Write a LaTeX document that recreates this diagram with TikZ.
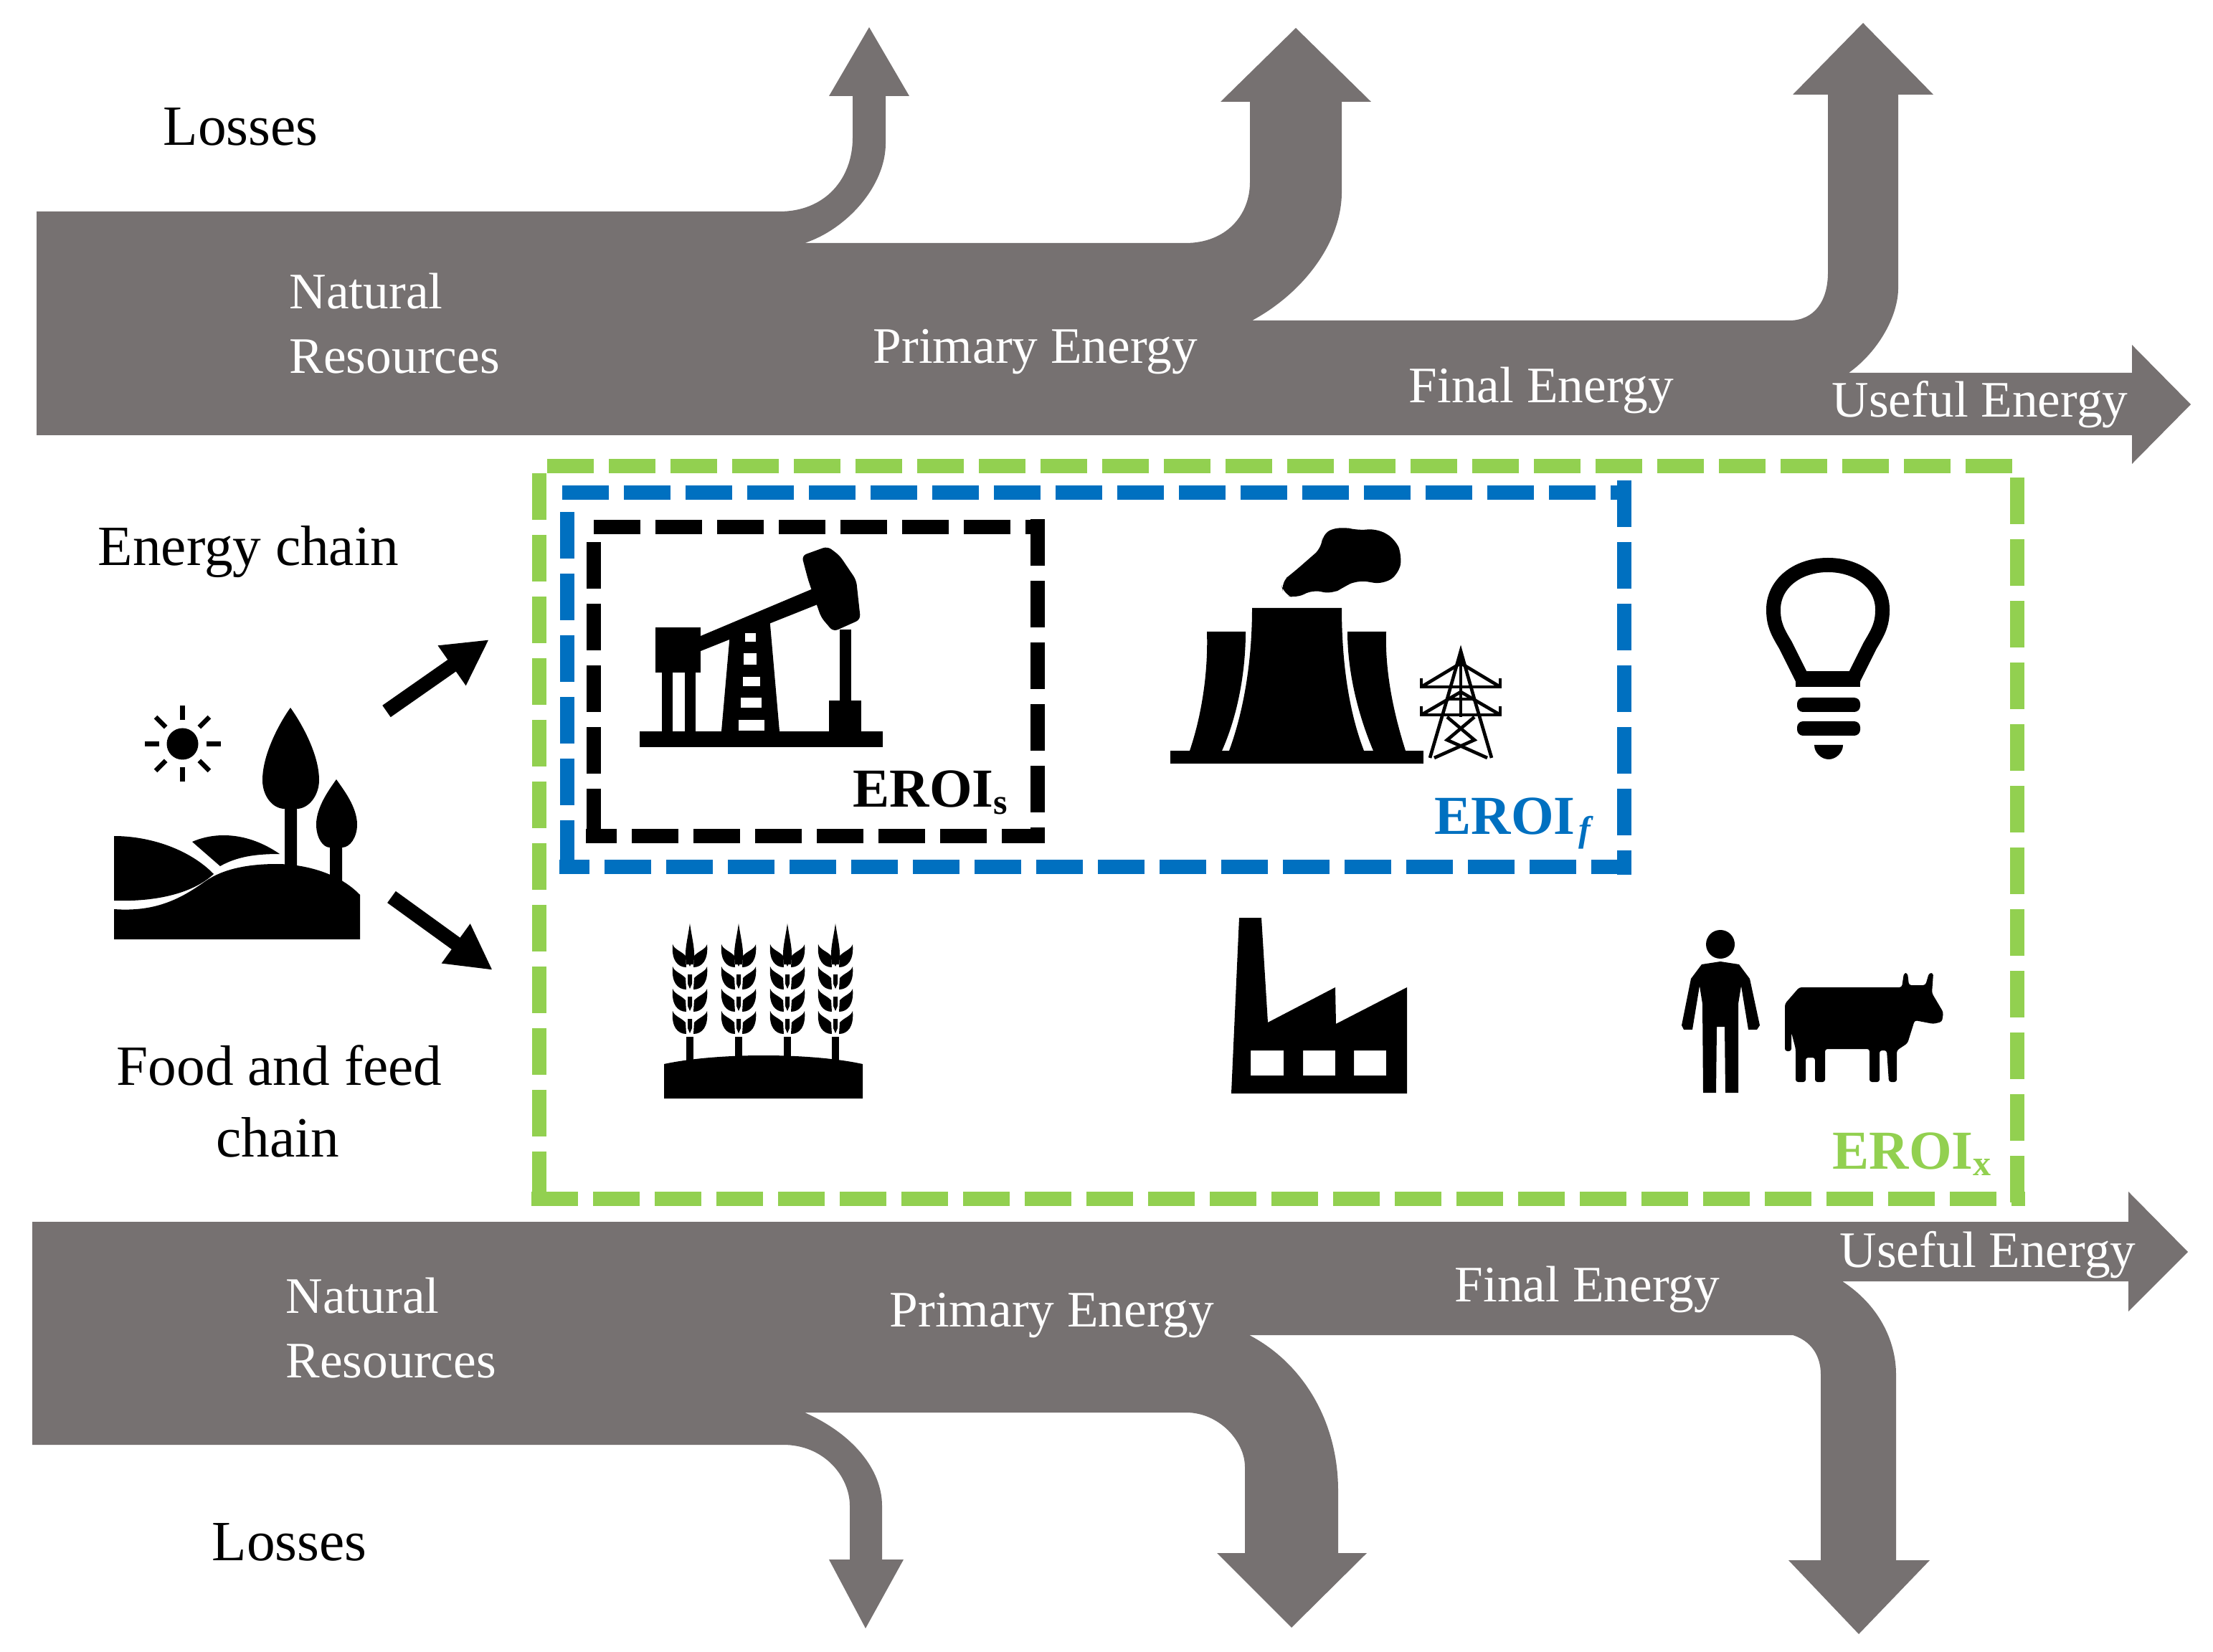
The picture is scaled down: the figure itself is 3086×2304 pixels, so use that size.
\documentclass[tikz,border=0pt]{standalone}
\usepackage{fontspec}
\setmainfont{Liberation Serif}
\usetikzlibrary{arrows.meta,calc}
\definecolor{bandgrey}{HTML}{767171}
\definecolor{eroigreen}{HTML}{92D050}
\definecolor{eroiblue}{HTML}{0070C0}
\newcommand{\subsc}[1]{{\fontsize{15}{15}\selectfont\raisebox{-2.8pt}{#1}}}
\tikzset{
  band/.style={fill=bandgrey},
  lbl/.style={anchor=base west,inner sep=0pt,font=\fontsize{23.8}{24}\selectfont},
  wlbl/.style={anchor=base west,inner sep=0pt,font=\fontsize{21.4}{22}\selectfont,text=white},
  eroilbl/.style={anchor=base west,inner sep=0pt,font=\fontsize{23}{23}\selectfont\bfseries},
  dashside/.style={dash pattern=on 19.5pt off 6.3pt,line cap=butt},
  greenside/.style={dashside,draw=eroigreen,line width=5.8pt},
  blueside/.style={dashside,draw=eroiblue,line width=6.2pt},
  blackside/.style={dashside,draw=black,line width=6.2pt},
  smallarrow/.style={black,line width=6pt,-{Triangle[length=19pt,width=19pt]}},
  icon/.style={fill=black}
}
\begin{document}
\begin{tikzpicture}[x=0.3pt,y=-0.3pt]
\useasboundingbox (0,0) rectangle (3086,2304);
% top band
\fill[band] (51,295) -- (1087,295) .. controls (1150,295) and (1189,250) .. (1189,192) -- (1189,134) -- (1156,134) -- (1212,38) -- (1268,134) -- (1235,134) -- (1235,200) .. controls (1235,260) and (1180,320) .. (1122,339)
 -- (1653,339) .. controls (1710,339) and (1743,300) .. (1743,254) -- (1743,142) -- (1702,142) -- (1807,39) -- (1912,142) -- (1871,142) -- (1871,268) .. controls (1871,340) and (1815,410) .. (1746,447)
 -- (2495,447) .. controls (2530,447) and (2549,420) .. (2549,380) -- (2549,132) -- (2500,132) -- (2598,32) -- (2696,132) -- (2647,132) -- (2647,402) .. controls (2647,440) and (2620,490) .. (2578,520)
 -- (2973,520) -- (2973,481) -- (3055,564) -- (2973,647) -- (2973,607) -- (51,607) -- cycle;
% bottom band
\fill[band] (45,1704) -- (2968,1704) -- (2968,1662) -- (3051,1746) -- (2968,1829) -- (2968,1787) -- (2569,1787) .. controls (2620,1820) and (2644,1870) .. (2644,1917) -- (2644,2176) -- (2691,2176) -- (2592,2279) -- (2494,2176) -- (2539,2176) -- (2539,1917) .. controls (2539,1890) and (2525,1870) .. (2500,1862)
 -- (1742,1862) .. controls (1815,1900) and (1866,1980) .. (1866,2079) -- (1866,2166) -- (1906,2166) -- (1801,2270) -- (1697,2166) -- (1736,2166) -- (1736,2046) .. controls (1736,2010) and (1700,1970) .. (1654,1970)
 -- (1122,1970) .. controls (1190,2000) and (1230,2050) .. (1230,2100) -- (1230,2175) -- (1260,2175) -- (1207,2271) -- (1156,2175) -- (1185,2175) -- (1185,2100) .. controls (1185,2060) and (1150,2015) .. (1092,2015) -- (45,2015) -- cycle;
% labels
\node[lbl] (lossTop) at (227,203) {Losses};
\node[wlbl] (natTop) at (403,431) {Natural};
\node[wlbl] (resTop) at (403,521) {Resources};
\node[wlbl] (priTop) at (1217,507) {Primary Energy};
\node[wlbl] (finTop) at (1964,562) {Final Energy};
\node[wlbl] (useTop) at (2554,582) {Useful Energy};
\node[lbl] (enChain) at (136,789) {Energy chain};
\node[lbl] (foodA) at (162,1513) {Food and feed};
\node[lbl] (foodB) at (301,1613) {chain};
\node[wlbl] (natBot) at (398,1831) {Natural};
\node[wlbl] (resBot) at (398,1921) {Resources};
\node[wlbl] (priBot) at (1240,1850) {Primary Energy};
\node[wlbl] (finBot) at (2028,1815) {Final Energy};
\node[wlbl] (useBot) at (2565,1767) {Useful Energy};
\node[lbl] (lossBot) at (295,2176) {Losses};
% dashed frames
\draw[greenside] (763,650) -- (2808,650);
\draw[greenside] (752,660) -- (752,1682);
\draw[greenside] (741,1672) -- (2824,1672);
\draw[greenside] (2813,666) -- (2813,1682);
\draw[blueside] (784,687) -- (2275,687);
\draw[blueside] (791,714) -- (791,1220);
\draw[blueside,dash phase=6.9pt] (780,1209) -- (2275,1209);
\draw[blueside] (2265,670) -- (2265,1220);
\draw[blackside] (828,735) -- (1457,735);
\draw[blackside] (828,756) -- (828,1176);
\draw[blackside,dash phase=6.6pt] (817,1166) -- (1457,1166);
\draw[blackside] (1447,724) -- (1447,1176);
\node[eroilbl] (eroiS) at (1189,1126) {EROI\subsc{s}};
\node[eroilbl,text=eroiblue] (eroiF) at (2000,1164) {EROI\kern1.5pt\subsc{\itshape f}};
\node[eroilbl,text=eroigreen] (eroiX) at (2555,1630) {EROI\subsc{x}};
% small arrows
\coordinate (upA) at (539,992);
\coordinate (upB) at (682,892);
\coordinate (dnA) at (546,1251);
\coordinate (dnB) at (687,1353);
\draw[smallarrow] (upA) -- (upB);
\draw[smallarrow] (dnA) -- (dnB);
% sun
\fill[icon] (254.5,1037.5) circle [radius=22];
\foreach \a in {0,45,...,315}
  \draw[black,line width=2pt] ($(254.5,1037.5)+(\a:33)$) -- ($(254.5,1037.5)+(\a:53)$);
% trees
\fill[icon] (405,987) .. controls (418,1005) and (445,1050) .. (445,1088) .. controls (445,1110) and (430,1128) .. (414,1128) -- (414,1210) -- (397,1210) -- (397,1128) .. controls (380,1128) and (366,1110) .. (366,1088) .. controls (366,1050) and (392,1005) .. (405,987) -- cycle;
\fill[icon] (469,1087) .. controls (478,1100) and (498,1125) .. (498,1150) .. controls (498,1168) and (488,1182) .. (477,1182) -- (477,1240) -- (460,1240) -- (460,1182) .. controls (450,1182) and (441,1168) .. (441,1150) .. controls (441,1125) and (460,1100) .. (469,1087) -- cycle;
% land
\fill[icon] (159,1268) .. controls (215,1272) and (250,1255) .. (285,1230) .. controls (310,1212) and (345,1205) .. (386,1205) .. controls (420,1205) and (470,1215) .. (502,1248) -- (502,1310) -- (159,1310) -- cycle;
\fill[icon] (159,1166) .. controls (210,1166) and (265,1185) .. (298,1219) .. controls (270,1245) and (220,1258) .. (159,1256) -- cycle;
\fill[icon] (268,1174) .. controls (300,1160) and (345,1160) .. (390,1191) .. controls (355,1191) and (330,1195) .. (307,1208) -- cycle;
% pump jack
\fill[icon] (892,1020) rectangle (1231,1042);
\fill[icon] (914,875) rectangle (977,938);
\fill[icon] (923,938) rectangle (938,1020);
\fill[icon] (955,938) rectangle (970,1020);
\fill[icon] (977,887) -- (1136,820) -- (1140,843) -- (977,908) -- cycle;
\fill[icon,rounded corners=2pt] (1118,775) -- (1154,762) -- (1171,775) -- (1194,809) -- (1200,864) -- (1162,881) -- (1145,861) -- (1127,809) -- cycle;
\fill[icon] (1171,878) rectangle (1187,981);
\fill[icon] (1156,977) rectangle (1201,1020);
\fill[icon] (1019,872) -- (1073,860) -- (1087,1020) -- (1006,1020) -- cycle;
\fill[white] (1039,883) rectangle (1054,895);
\fill[white] (1037,911) rectangle (1055,927);
\fill[white] (1036,944) rectangle (1060,957);
\fill[white] (1033,973) rectangle (1062,987);
\fill[white] (1030,1004) rectangle (1066,1019);
% wheat
\fill[icon] (926,1484) .. controls (1000,1468) and (1130,1468) .. (1203,1484) -- (1203,1532) -- (926,1532) -- cycle;
\foreach \cx in {962,1030,1098,1165} {
  \fill[icon] ({\cx-5},1446) rectangle ({\cx+5},1485);
  \fill[icon] (\cx,1288) .. controls ({\cx+4},1315) and ({\cx+8},1325) .. ({\cx+5},1345) -- ({\cx-5},1345) .. controls ({\cx-8},1325) and ({\cx-4},1315) .. (\cx,1288) -- cycle;
  \foreach \r in {1317,1348,1379,1410} {
    \fill[icon] ({\cx-3},{\r+11}) -- ({\cx+3},{\r+11}) -- ({\cx+3},{\r+24}) -- (\cx,{\r+31}) -- ({\cx-3},{\r+24}) -- cycle;
    \foreach \s in {1,-1}
      \fill[icon] ({\cx+\s*5},{\r+32}) .. controls ({\cx+\s*17},{\r+32}) and ({\cx+\s*26},{\r+22}) .. ({\cx+\s*24},\r) .. controls ({\cx+\s*21},{\r+8}) and ({\cx+\s*14},{\r+8}) .. ({\cx+\s*6},{\r+16}) -- cycle;
  }
}
% power plant
\fill[icon] (1632,1047) rectangle (1985,1065);
\fill[icon] (1746,848) -- (1871,848) .. controls (1871,920) and (1880,990) .. (1902,1047) -- (1714,1047) .. controls (1735,990) and (1746,920) .. (1746,848) -- cycle;
\fill[icon] (1683,881) -- (1737,881) .. controls (1737,940) and (1725,1000) .. (1704,1047) -- (1659,1047) .. controls (1675,1000) and (1685,940) .. (1683,881) -- cycle;
\fill[icon] (1879,881) -- (1933,881) .. controls (1931,940) and (1945,1000) .. (1960,1047) -- (1915,1047) .. controls (1895,1000) and (1879,940) .. (1879,881) -- cycle;
\fill[icon,rounded corners=4pt] (1786,812) -- (1804,798) -- (1844,763) -- (1844,743) -- (1871,734) -- (1893,740) -- (1920,737) -- (1946,752) -- (1955,775) -- (1951,800) -- (1929,815) -- (1893,809) -- (1875,818) -- (1857,829) -- (1830,822) -- (1808,835) -- (1790,829) -- cycle;
% pylon
\begin{scope}[line width=1.4pt,black]
\draw (1994,1057) -- (2018,975) -- (2037,908) -- (2056,975) -- (2080,1057);
\draw (2037,908) -- (2037,1000);
\draw (1982,958) -- (2037,925) -- (2092,958);
\draw (1982,946) -- (1982,958) -- (2092,958) -- (2092,946);
\draw (1982,997) -- (2037,965) -- (2092,997);
\draw (1982,985) -- (1982,997) -- (2092,997) -- (2092,985);
\draw (2018,975) -- (2056,975);
\draw (2018,1000) -- (2056,1032) -- (2000,1057);
\draw (2056,1000) -- (2018,1032) -- (2074,1057);
\end{scope}
% bulb
\draw[black,line width=6pt,line join=round] (2514,948) -- (2490,900) .. controls (2478,880) and (2473,870) .. (2473,850) .. controls (2473,815) and (2505,788) .. (2549,788) .. controls (2593,788) and (2625,815) .. (2625,850) .. controls (2625,870) and (2620,880) .. (2608,900) -- (2584,948);
\fill[icon] (2504,936) rectangle (2594,958);
\fill[icon,rounded corners=2.5pt] (2506,973) rectangle (2594,993);
\fill[icon,rounded corners=2.5pt] (2506,1006) rectangle (2594,1026);
\fill[icon] (2530,1039) -- (2570,1039) .. controls (2570,1050) and (2560,1059) .. (2550,1059) .. controls (2540,1059) and (2530,1050) .. (2530,1039) -- cycle;
% factory
\fill[icon,even odd rule] (1717,1525) -- (1728,1280) -- (1759,1280) -- (1768,1426) -- (1862,1377) -- (1863,1428) -- (1962,1377) -- (1962,1525) -- cycle
 (1744,1465) rectangle (1790,1500) (1817,1465) rectangle (1862,1500) (1888,1465) rectangle (1933,1500);
% person
\fill[icon] (2399,1317) ellipse [x radius=20,y radius=20];
\fill[icon] (2399,1341) -- (2425,1345) -- (2440,1365) -- (2454,1430) -- (2450,1436) -- (2438,1436) -- (2428,1375) -- (2424,1400) -- (2424,1524) -- (2406,1524) -- (2405,1432) -- (2394,1432) -- (2393,1524) -- (2375,1524) -- (2374,1400) -- (2370,1375) -- (2360,1436) -- (2348,1436) -- (2345,1430) -- (2358,1365) -- (2373,1345) -- cycle;
% cow
\fill[icon,rounded corners=1pt] (2489,1466) -- (2489,1400) -- (2509,1377) -- (2652,1377) -- (2655,1357) -- (2660,1357) -- (2662,1374) -- (2685,1374) -- (2690,1357) -- (2696,1357) -- (2694,1385) -- (2710,1412) -- (2708,1425) -- (2696,1428) -- (2670,1423) -- (2660,1455) -- (2645,1465) -- (2645,1509) -- (2634,1509) -- (2631,1465) -- (2621,1465) -- (2621,1509) -- (2607,1509) -- (2607,1463) -- (2545,1463) -- (2545,1509) -- (2531,1509) -- (2531,1475) -- (2518,1475) -- (2518,1509) -- (2504,1509) -- (2504,1463) -- (2498,1440) -- (2498,1466) -- cycle;
\end{tikzpicture}
\end{document}
